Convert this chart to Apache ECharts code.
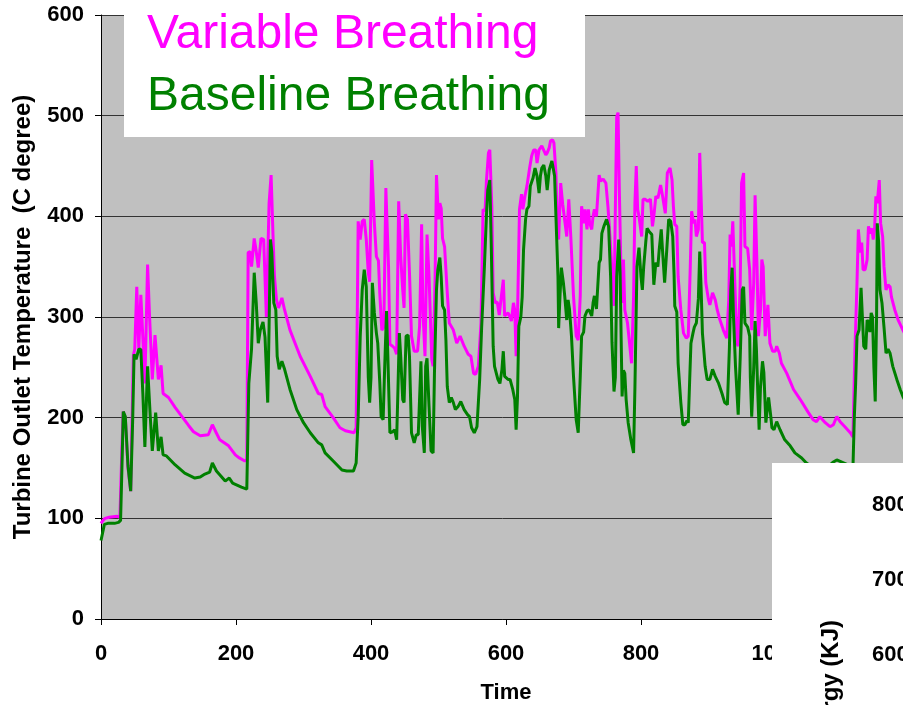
<!DOCTYPE html>
<html>
<head>
<meta charset="utf-8">
<script src="https://cdn.jsdelivr.net/npm/echarts@6/dist/echarts.min.js"></script>
<style>
html,body{margin:0;padding:0;background:#fff;}
#chart{width:903px;height:705px;}
</style>
</head>
<body>
<div id="chart"></div>
<script>
// ---- data ----
const seriesNames = ['Variable Breathing', 'Baseline Breathing'];
const xTicks = [0, 200, 400, 600, 800, 1000, 1200];
const yTicks = [0, 100, 200, 300, 400, 500, 600];

const varTime = [0,2,6,12,24,28,31,33,36,40,44,48,50,53,56,59,62,65,69,72,76,80,85,89,92,100,110,120,130,137,147,159,165,170,176,189,199,205,213,216,
218,221,223,227,230,233,237,241,245,249,252,255,257,260,263,268,272,280,295,310,322,327,332,344,354,362,375,378,
381,384,387,390,393,396,398,401,405,408,411,413,416,419,422,426,428,432,435,438,441,444,447,449,451,454,457,460,464,469,472,475,477,480,483,486,490,492,495,497,500,502,504,506,509,513,516,522,527,532,538,544,548,552,555,559,
563,566,569,571,574,576,579,581,584,587,590,593,596,598,603,606,608,611,613,615,617,620,622,623,625,628,631,635,638,641,644,646,649,653,655,659,661,664,666,669,671,674,676,678,681,684,686,690,693,696,700,704,707,710,712,715,717,720,722,724,727,729,731,734,738,740,744,748,751,754,758,760,762,764,766,768,770,772,774,776,780,783,786,
789,791,793,795,797,801,803,806,810,814,817,819,822,825,829,832,836,839,843,846,848,850,853,855,859,863,867,870,873,875,878,880,882,885,887,889,891,894,896,900,902,906,910,913,917,922,927,930,932,934,936,939,942,944,947,949,952,954,958,961,964,967,969,972,974,977,979,981,984,986,988,991,995,999,1001,1005,1008,1016,1026,1036,1048,1055,1060,1065,1073,1080,1085,1090,1095,1102,1110,1114,
1117,1120,1122,1125,1127,1129,1132,1135,1137,1139,1142,1144,1146,1148,1150,1153,1155,1158,1160,1163,1166,1169,1171,1176,1181,1188,1195];
const varTemp = [95,97,100,101,102,101,170,206,200,150,127,262,268,330,268,322,280,234,352,300,238,282,238,252,224,220,210,201,192,186,182,183,193,186,178,172,163,160,157,158,
364,365,350,378,365,349,378,377,300,413,441,378,340,317,309,319,307,287,261,241,224,223,211,200,190,187,185,190,
395,377,395,397,377,344,335,456,393,360,356,324,287,290,428,350,273,271,269,263,415,360,327,309,402,397,344,281,266,266,291,392,304,261,382,340,258,251,340,441,397,413,408,378,370,324,294,287,274,281,271,263,261,244,243,251,
294,407,405,435,463,466,410,324,314,315,302,320,337,301,304,300,296,314,307,261,300,407,407,422,407,420,430,448,460,466,466,453,466,470,471,461,463,468,475,476,473,443,387,377,433,412,413,380,417,380,321,281,277,321,410,393,407,387,407,393,387,400,407,400,441,435,437,433,410,380,334,311,407,499,503,423,357,314,357,307,294,274,254,
320,413,450,407,400,380,417,417,415,417,390,400,420,418,431,420,403,443,448,436,410,392,390,340,307,284,279,281,350,405,393,397,380,387,463,420,374,374,334,317,312,324,317,307,297,287,279,317,382,370,395,334,274,271,334,433,443,370,368,347,287,334,421,347,281,307,357,350,281,281,312,274,266,266,271,264,254,244,228,218,205,198,196,201,195,191,193,201,196,191,185,181,
268,334,387,364,374,347,347,357,390,383,388,377,387,420,413,436,393,380,350,327,332,330,320,307,297,287,278];

const baseTime = [0,2,5,10,20,26,29,31,33,36,40,44,47,49,52,56,59,62,65,69,71,73,76,81,85,89,92,97,110,124,139,147,154,161,165,171,184,190,195,208,216,
219,223,227,230,233,236,238,240,243,247,249,251,253,256,259,261,264,268,272,280,290,300,310,322,327,332,344,357,364,374,378,
381,384,387,390,393,396,398,400,402,405,408,410,413,415,418,420,423,425,428,432,435,438,440,442,444,447,449,452,455,457,460,464,467,470,474,476,479,481,483,486,489,492,494,497,499,502,504,506,509,511,513,516,519,522,525,529,533,538,543,546,549,553,557,
561,564,568,571,573,576,578,581,583,588,591,594,596,598,603,606,610,613,615,617,619,622,624,626,629,631,634,636,640,643,646,649,651,653,656,659,661,664,668,670,672,675,677,678,680,682,685,687,690,692,694,697,700,704,707,710,712,715,717,720,723,727,729,731,734,738,740,742,745,749,752,755,757,760,762,764,767,769,772,774,776,778,781,785,789,
791,794,797,800,802,804,807,809,812,816,819,822,825,827,830,832,835,838,841,844,847,849,850,853,855,859,862,865,868,870,872,874,877,879,882,885,887,889,891,895,898,902,906,910,915,920,924,928,931,933,935,937,940,944,947,950,952,954,958,961,962,964,967,969,971,973,975,977,980,982,985,987,989,992,994,997,1001,1006,1013,1021,1028,1038,1045,1060,1075,1085,1090,1100,1110,1114,
1116,1118,1120,1123,1126,1128,1130,1133,1135,1137,1139,1141,1143,1145,1147,1149,1150,1152,1154,1157,1160,1163,1166,1169,1173,1179,1184,1188,1195];
const baseTemp = [78,79,94,95,95,96,98,150,206,201,152,127,200,263,258,268,268,224,171,251,250,201,167,205,167,181,163,162,153,145,140,141,144,146,155,147,137,140,135,131,129,
234,268,344,314,274,287,291,295,280,215,290,377,365,314,307,261,248,256,248,228,208,195,185,175,173,165,157,148,147,147,155,
201,280,327,347,330,240,215,240,334,304,284,274,235,201,198,244,306,260,185,186,188,178,230,284,261,218,215,281,282,261,185,175,183,183,256,191,165,251,259,211,167,165,244,327,347,359,340,311,307,277,231,215,220,215,208,211,216,208,203,201,190,185,191,
238,291,350,400,426,436,377,271,251,238,234,248,266,241,238,238,228,218,188,220,291,300,320,367,397,407,410,430,438,448,440,423,440,448,451,440,426,446,455,455,440,380,340,289,321,349,334,321,297,317,308,281,241,198,185,241,281,285,301,306,307,301,314,321,308,354,357,383,390,397,390,340,275,226,240,340,377,345,221,247,244,218,195,178,165,
230,350,369,340,327,350,374,388,385,382,332,354,350,367,387,365,334,365,397,395,380,342,311,305,254,215,193,193,197,195,235,274,284,290,294,318,365,330,284,251,238,238,248,241,234,224,215,213,270,327,349,301,251,203,260,327,330,294,290,281,240,201,250,296,268,225,188,230,256,245,195,208,220,203,190,188,196,188,178,172,165,160,155,148,150,156,158,155,152,150,
200,234,281,287,329,300,271,268,297,295,285,304,300,250,216,300,393,375,327,314,290,264,268,264,251,238,228,221,212];

const zip = (xs, ys) => xs.map((x, i) => [x, ys[i]]);

// ---- chart ----
const FONT = '"Liberation Sans", Arial, sans-serif';
const chart = echarts.init(document.getElementById('chart'), null, {renderer: 'canvas'});

chart.setOption({
  animation: false,
  backgroundColor: '#ffffff',
  grid: {
    left: 101, top: 15, width: 810, height: 604,
    containLabel: false, outerBoundsMode: 'none',
    show: true, backgroundColor: '#C0C0C0', borderWidth: 0
  },
  xAxis: {
    type: 'value', min: xTicks[0], max: xTicks[xTicks.length - 1], interval: 200,
    name: 'Time', nameLocation: 'middle', nameGap: 63,
    nameTextStyle: {fontFamily: FONT, fontWeight: 'bold', fontSize: 22, color: '#000'},
    axisLine: {show: true, lineStyle: {color: '#000', width: 1}},
    axisTick: {show: true, inside: false, length: 6, lineStyle: {color: '#000'}},
    axisLabel: {fontFamily: FONT, fontWeight: 'bold', fontSize: 22, color: '#000', margin: 24,
      formatter: v => String(v)},
    splitLine: {show: false}
  },
  yAxis: {
    type: 'value', min: yTicks[0], max: yTicks[yTicks.length - 1], interval: 100,
    name: 'Turbine Outlet Temperature  (C degree)', nameLocation: 'middle', nameGap: 66,
    nameTextStyle: {fontFamily: FONT, fontWeight: 'bold', fontSize: 24, color: '#000'},
    axisLine: {show: true, lineStyle: {color: '#000', width: 1}},
    axisTick: {show: true, inside: false, length: 6, lineStyle: {color: '#000'}},
    axisLabel: {fontFamily: FONT, fontWeight: 'bold', fontSize: 22, color: '#000', margin: 17,
      formatter: v => String(v)},
    splitLine: {show: true, lineStyle: {color: '#333', width: 1}}
  },
  series: [
    {
      name: seriesNames[0], type: 'line', data: zip(varTime, varTemp),
      showSymbol: false, symbol: 'none', clip: true,
      lineStyle: {color: '#FF00FF', width: 3}, itemStyle: {color: '#FF00FF'}, z: 2
    },
    {
      name: seriesNames[1], type: 'line', data: zip(baseTime, baseTemp),
      showSymbol: false, symbol: 'none', clip: true,
      lineStyle: {color: '#008000', width: 3}, itemStyle: {color: '#008000'}, z: 3
    }
  ],
  graphic: [
    // legend box
    {type: 'rect', left: 124, top: 0, z: 100, shape: {width: 461, height: 137}, style: {fill: '#ffffff'}},
    {type: 'text', x: 147, y: 35, z: 101, style: {text: seriesNames[0], fill: '#FF00FF', font: '48px ' + FONT, textVerticalAlign: 'middle'}},
    {type: 'text', x: 147, y: 97, z: 101, style: {text: seriesNames[1], fill: '#008000', font: '48px ' + FONT, textVerticalAlign: 'middle'}},
    // overlapping chart panel (lower right)
    {type: 'rect', left: 772, top: 463, z: 100, shape: {width: 140, height: 250}, style: {fill: '#ffffff'}},
    {type: 'text', x: 872, y: 505, z: 101, style: {text: '800', fill: '#000', font: 'bold 22px ' + FONT, textVerticalAlign: 'middle'}},
    {type: 'text', x: 872, y: 580, z: 101, style: {text: '700', fill: '#000', font: 'bold 22px ' + FONT, textVerticalAlign: 'middle'}},
    {type: 'text', x: 872, y: 655, z: 101, style: {text: '600', fill: '#000', font: 'bold 22px ' + FONT, textVerticalAlign: 'middle'}},
    {type: 'text', x: 831, y: 620, rotation: Math.PI / 2, z: 101, style: {text: 'Energy (KJ)', fill: '#000', font: 'bold 24px ' + FONT, textAlign: 'right', textVerticalAlign: 'middle'}}
  ]
});
</script>
</body>
</html>
